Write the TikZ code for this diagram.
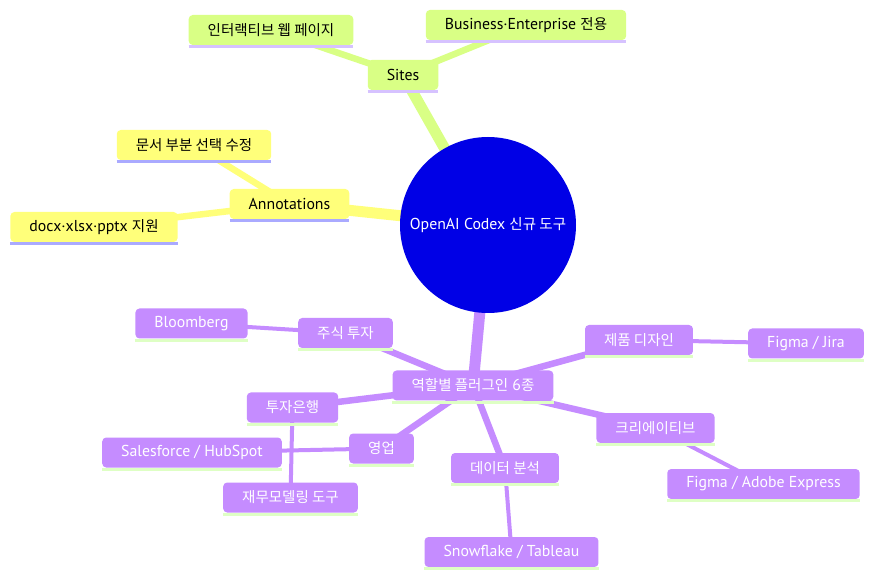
\documentclass[tikz,border=0pt]{standalone}
\usepackage{fontspec}
\setmainfont[Scale=1.09]{PT Sans}
\newfontfamily\kofont{Noto Sans CJK KR}
\newcommand{\ko}[1]{{\kofont #1}}
\usetikzlibrary{backgrounds}
\definecolor{rootblue}{RGB}{0,0,230}
\definecolor{sitefill}{RGB}{217,255,133}
\definecolor{siteline}{RGB}{214,194,255}
\definecolor{notefill}{RGB}{255,255,122}
\definecolor{noteline}{RGB}{170,170,255}
\definecolor{rolefill}{RGB}{197,140,255}
\definecolor{roleline}{RGB}{222,255,196}
\tikzset{
  box/.style={rounded corners=4pt, minimum height=30pt, inner xsep=19pt, inner ysep=0pt, font=\fontsize{14.5}{17}\selectfont},
  sitebox/.style={box, fill=sitefill},
  notebox/.style={box, fill=notefill},
  rolebox/.style={box, fill=rolefill, text=white},
  rootnode/.style={circle, fill=rootblue, text=white, minimum size=176pt, inner sep=0pt, font=\fontsize{14.5}{17}\selectfont},
  trunk/.style={line width=11pt},
  branch/.style={line width=6.5pt},
  twig/.style={line width=4pt},
  underline/.style={line width=3pt}
}

\begin{document}
\begin{tikzpicture}[x=1pt, y=-1pt]
  \useasboundingbox (0,0) rectangle (884,585);
  % root
  \node[rootnode] (root) at (488,225) {OpenAI Codex \ko{신규 도구}};
  % Sites
  \node[sitebox] (sites) at (403,75) {Sites};
  \node[sitebox] (web) at (271,30) {\ko{인터랙티브 웹 페이지}};
  \node[sitebox] (ent) at (526,25) {Business·Enterprise \ko{전용}};
  % Annotations
  \node[notebox] (annot) at (289.5,204) {Annotations};
  \node[notebox] (part) at (194,145) {\ko{문서 부분 선택 수정}};
  \node[notebox] (fmt) at (94,227) {docx·xlsx·pptx \ko{지원}};
  % plugins
  \node[rolebox] (roles) at (473,385.5) {\ko{역할별 플러그인} 6\ko{종}};
  \node[rolebox] (stock) at (345.5,333) {\ko{주식 투자}};
  \node[rolebox] (bloom) at (191.5,323.5) {Bloomberg};
  \node[rolebox] (ib) at (292.5,407.5) {\ko{투자은행}};
  \node[rolebox] (finmod) at (290.5,497.5) {\ko{재무모델링 도구}};
  \node[rolebox] (sales) at (381.5,448.5) {\ko{영업}};
  \node[rolebox] (crm) at (192,452.5) {Salesforce / HubSpot};
  \node[rolebox] (data) at (505,468) {\ko{데이터 분석}};
  \node[rolebox] (snow) at (511.5,552) {Snowflake / Tableau};
  \node[rolebox] (prod) at (639,340) {\ko{제품 디자인}};
  \node[rolebox] (jira) at (806,343.5) {Figma / Jira};
  \node[rolebox] (creat) at (655.5,428) {\ko{크리에이티브}};
  \node[rolebox] (adobe) at (763.5,484) {Figma / Adobe Express};

  % underlines
  \foreach \n in {sites,web,ent}
    \draw[siteline, underline] ([yshift=-1.5pt]\n.south west) -- ([yshift=-1.5pt]\n.south east);
  \foreach \n in {annot,part,fmt}
    \draw[noteline, underline] ([yshift=-1.5pt]\n.south west) -- ([yshift=-1.5pt]\n.south east);
  \foreach \n in {roles,stock,bloom,ib,finmod,sales,crm,data,snow,prod,jira,creat,adobe}
    \draw[roleline, underline] ([yshift=-1.5pt]\n.south west) -- ([yshift=-1.5pt]\n.south east);

  % edges
  \begin{pgfonlayer}{background}
    \fill[white] (0,0) rectangle (884,585);
    \draw[sitefill, trunk] (root.center) -- (sites.center);
    \draw[sitefill, branch] (sites.center) -- (web.center);
    \draw[sitefill, branch] (sites.center) -- (ent.center);
    \draw[notefill, trunk] (root.center) -- (annot.center);
    \draw[notefill, branch] (annot.center) -- (part.center);
    \draw[notefill, branch] (annot.center) -- (fmt.center);
    \draw[rolefill, trunk] (root.center) -- (roles.center);
    \foreach \c in {stock,ib,sales,data,prod,creat}
      \draw[rolefill, branch] (roles.center) -- (\c.center);
    \draw[rolefill, twig] (stock.center) -- (bloom.center);
    \draw[rolefill, twig] (ib.center) -- (finmod.center);
    \draw[rolefill, twig] (sales.center) -- (crm.center);
    \draw[rolefill, twig] (data.center) -- (snow.center);
    \draw[rolefill, twig] (prod.center) -- (jira.center);
    \draw[rolefill, twig] (creat.center) -- (adobe.center);
  \end{pgfonlayer}
\end{tikzpicture}
\end{document}
